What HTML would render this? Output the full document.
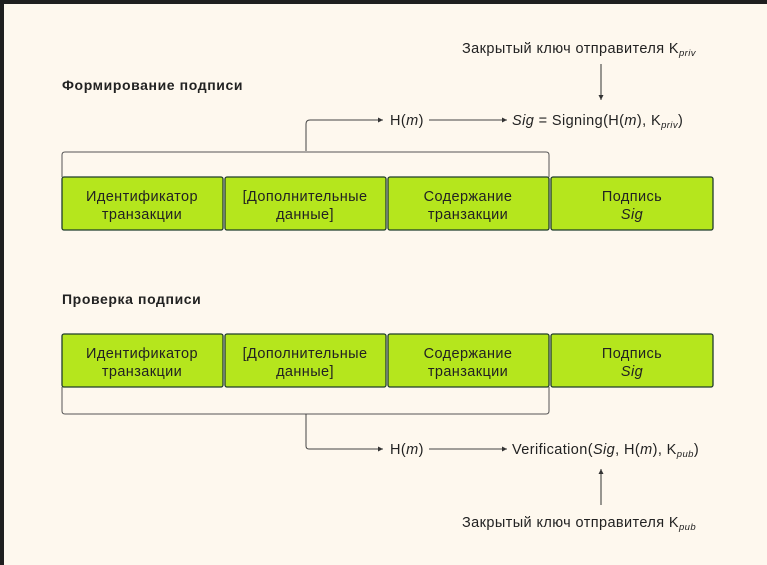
<!DOCTYPE html>
<html><head><meta charset="utf-8"><style>
html,body{margin:0;padding:0;background:#1f1f1f;}
.wrap{position:absolute;left:4px;top:4px;width:763px;height:561px;background:#fef8ee;}
svg{position:absolute;left:0;top:0;}
text{font-family:"Liberation Sans",sans-serif;fill:#222;}
</style></head><body>
<div class="wrap"></div>
<svg width="767" height="565" xmlns="http://www.w3.org/2000/svg">
<defs><marker id="a" markerWidth="6" markerHeight="6" refX="5" refY="3" orient="auto"><path d="M0,0.5 L5,3 L0,5.5z" fill="#333"/></marker></defs>
<g font-size="14.5" letter-spacing="0.4">
<text x="62" y="90" font-weight="bold" font-size="14" letter-spacing="0.6">Формирование подписи</text>
<text x="62" y="304" font-weight="bold" font-size="14" letter-spacing="0.6">Проверка подписи</text>

<text x="462" y="53">Закрытый ключ отправителя K<tspan font-size="9.5" font-style="italic" dy="3">priv</tspan></text>
<line x1="601" y1="64" x2="601" y2="100" stroke="#333" marker-end="url(#a)"/>

<path d="M306,151 V124 Q306,120 310,120 H383" fill="none" stroke="#444" marker-end="url(#a)"/>
<text x="390" y="125">H(<tspan font-style="italic">m</tspan>)</text>
<line x1="429" y1="120" x2="507" y2="120" stroke="#444" marker-end="url(#a)"/>
<text x="512" y="125"><tspan font-style="italic">Sig</tspan> = Signing(H(<tspan font-style="italic">m</tspan>), K<tspan font-size="9.5" font-style="italic" dy="3">priv</tspan><tspan dy="-3">)</tspan></text>

<path d="M62,177 V155 Q62,152 65,152 H546 Q549,152 549,155 V177" fill="none" stroke="#555"/>

<g stroke="#1f3d2b" stroke-width="1.3" fill="#b5e61d">
<rect x="62" y="177" width="161" height="53" rx="2"/>
<rect x="225" y="177" width="161" height="53" rx="2"/>
<rect x="388" y="177" width="161" height="53" rx="2"/>
<rect x="551" y="177" width="162" height="53" rx="2"/>
<rect x="62" y="334" width="161" height="53" rx="2"/>
<rect x="225" y="334" width="161" height="53" rx="2"/>
<rect x="388" y="334" width="161" height="53" rx="2"/>
<rect x="551" y="334" width="162" height="53" rx="2"/>
</g>
<g text-anchor="middle">
<text x="142" y="201">Идентификатор</text><text x="142" y="219">транзакции</text>
<text x="305" y="201">[Дополнительные</text><text x="305" y="219">данные]</text>
<text x="468" y="201">Содержание</text><text x="468" y="219">транзакции</text>
<text x="632" y="201">Подпись</text><text x="632" y="219" font-style="italic">Sig</text>
<text x="142" y="358">Идентификатор</text><text x="142" y="376">транзакции</text>
<text x="305" y="358">[Дополнительные</text><text x="305" y="376">данные]</text>
<text x="468" y="358">Содержание</text><text x="468" y="376">транзакции</text>
<text x="632" y="358">Подпись</text><text x="632" y="376" font-style="italic">Sig</text>
</g>

<path d="M62,387 V411 Q62,414 65,414 H546 Q549,414 549,411 V387" fill="none" stroke="#555"/>
<path d="M306,414 V446 Q306,449 309,449 H383" fill="none" stroke="#444" marker-end="url(#a)"/>
<text x="390" y="454">H(<tspan font-style="italic">m</tspan>)</text>
<line x1="429" y1="449" x2="507" y2="449" stroke="#444" marker-end="url(#a)"/>
<text x="512" y="454">Verification(<tspan font-style="italic">Sig</tspan>, H(<tspan font-style="italic">m</tspan>), K<tspan font-size="9.5" font-style="italic" dy="3">pub</tspan><tspan dy="-3">)</tspan></text>
<line x1="601" y1="505" x2="601" y2="469" stroke="#333" marker-end="url(#a)"/>
<text x="462" y="527">Закрытый ключ отправителя K<tspan font-size="9.5" font-style="italic" dy="3">pub</tspan></text>
</g>
</svg>
</body></html>
